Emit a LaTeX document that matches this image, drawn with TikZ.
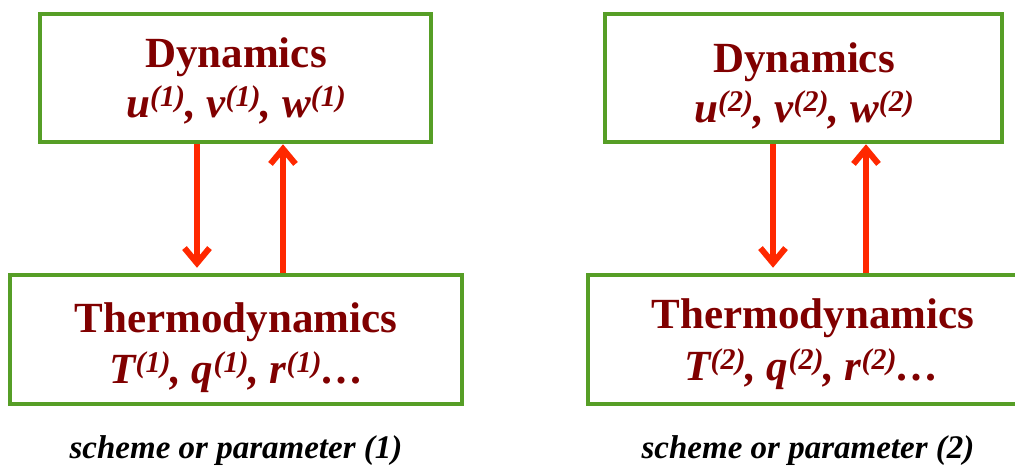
\documentclass[tikz,border=0pt]{standalone}
\usepackage{fontspec}
\setmainfont{Liberation Serif}
\usetikzlibrary{arrows.meta}
\definecolor{boxgreen}{RGB}{86,158,38}
\definecolor{txtred}{RGB}{128,0,0}
\definecolor{arrred}{RGB}{255,40,0}
\newcommand{\idx}[1]{\raisebox{11pt}{\fontsize{30}{31}\selectfont(#1)}}
\begin{document}
\begin{tikzpicture}[x=1pt,y=-1pt,
  box/.style={draw=boxgreen,line width=4.5pt,rectangle,inner sep=0pt},
  title/.style={anchor=base,inner sep=0pt,text=txtred,font=\fontsize{43}{48}\selectfont\bfseries},
  vars/.style={anchor=base,inner sep=0pt,text=txtred,font=\fontsize{43}{48}\selectfont\bfseries\itshape},
  caption/.style={anchor=base,inner sep=0pt,font=\fontsize{33}{36}\selectfont\bfseries\itshape},
  flow/.style={draw=arrred,line width=6pt,-{Straight Barb[length=15pt,width=25pt]}}]
\clip (0,0) rectangle (1015,467);
% left scheme
\node[box,minimum width=391pt,minimum height=128pt] (dyn1) at (235.5,78) {};
\node[box,minimum width=452pt,minimum height=129pt] (th1) at (236,339.5) {};
\node[title] (dyn1t) at (236,67) {Dynamics};
\node[vars] (dyn1v) at (236,117) {u\idx{1}, v\idx{1}, w\idx{1}};
\node[title] (th1t) at (236,332) {Thermodynamics};
\node[vars] (th1v) at (237,383) {T\idx{1}, q\idx{1}, r\idx{1}…};
\node[caption] (cap1) at (236,458) {scheme or parameter (1)};
\coordinate (a1) at (197,0);
\coordinate (b1) at (283,0);
\draw[flow,shorten >=5pt] (a1 |- dyn1.south) -- (a1 |- th1.north);
\draw[flow] (b1 |- th1.north) -- (b1 |- dyn1.south);
% right scheme
\node[box,minimum width=397pt,minimum height=128pt] (dyn2) at (803.5,78) {};
\node[box,minimum width=450pt,minimum height=129pt] (th2) at (813,339.5) {};
\node[title] (dyn2t) at (804,72) {Dynamics};
\node[vars] (dyn2v) at (804,122) {u\idx{2}, v\idx{2}, w\idx{2}};
\node[title] (th2t) at (813,328) {Thermodynamics};
\node[vars] (th2v) at (812,380) {T\idx{2}, q\idx{2}, r\idx{2}…};
\node[caption] (cap2) at (808,458) {scheme or parameter (2)};
\coordinate (a2) at (773,0);
\coordinate (b2) at (866,0);
\draw[flow,shorten >=5pt] (a2 |- dyn2.south) -- (a2 |- th2.north);
\draw[flow] (b2 |- th2.north) -- (b2 |- dyn2.south);
\end{tikzpicture}
\end{document}
